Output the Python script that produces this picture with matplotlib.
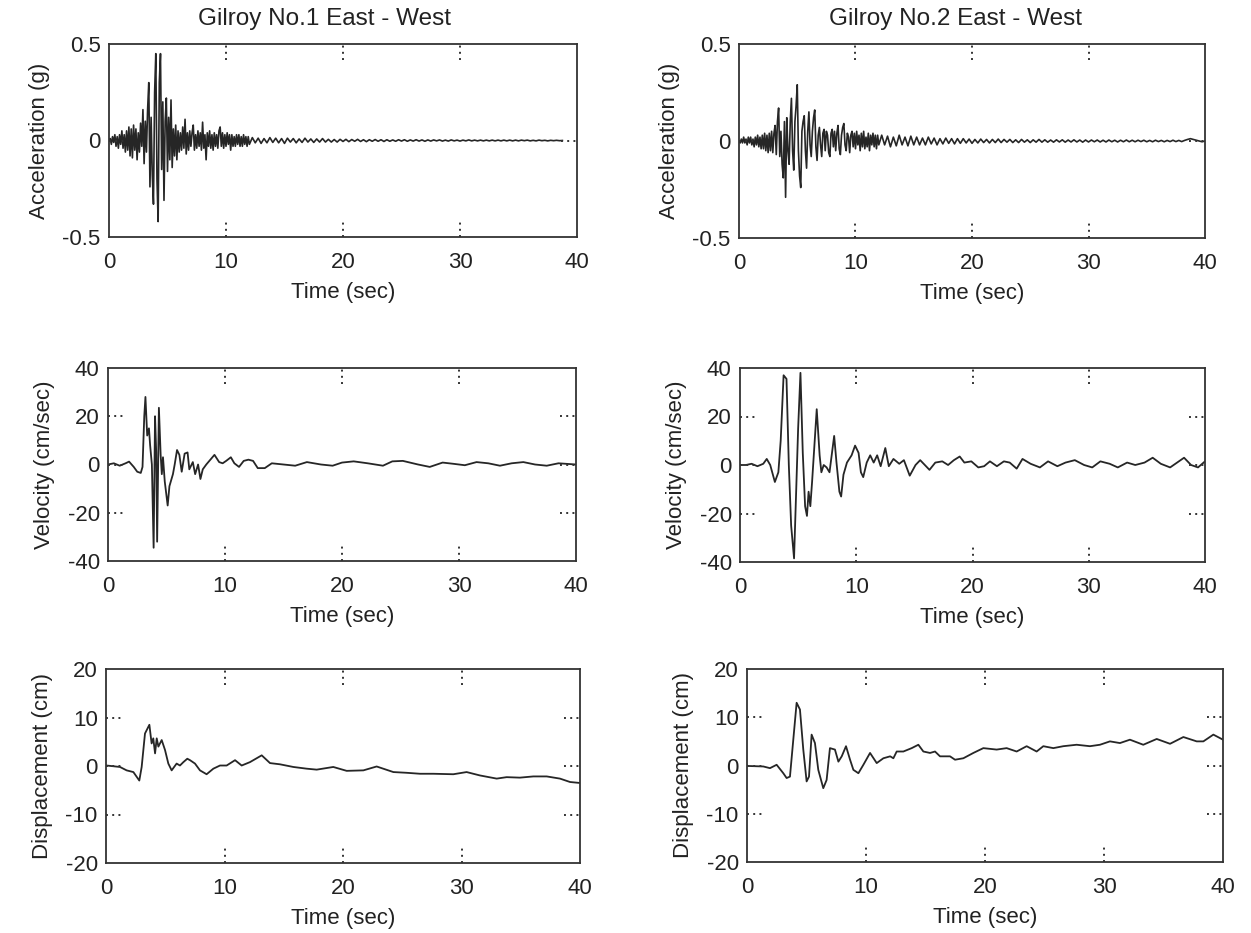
import numpy as np
import matplotlib
matplotlib.use("Agg")
import matplotlib.pyplot as plt

plt.rcParams['font.family'] = ['Liberation Sans', 'DejaVu Sans']

# ---------------- data ----------------
# Gilroy No.1 acceleration (g): 0-12 s every 0.1 s, then 12.25-38.75 s every 0.25 s
acc1_head = [0.00, 0.01, -0.02, 0.02, -0.01, 0.03, -0.03, 0.02, -0.04, 0.03,
             -0.02, 0.05, -0.04, 0.03, -0.06, 0.05, -0.05, 0.07, -0.08, 0.06,
             -0.09, 0.08, -0.05, 0.06, -0.10, 0.04, -0.06, 0.09, -0.03, 0.16,
             -0.12, 0.10, -0.06, 0.16, 0.30, -0.24, 0.12, -0.18, -0.33, 0.25,
             0.45, -0.20, -0.42, 0.30, 0.45, -0.15, 0.20, -0.31, 0.10, 0.22,
             -0.16, 0.12, -0.10, 0.21, -0.14, 0.06, -0.08, 0.08, -0.10, 0.05,
             -0.06, 0.04, -0.05, 0.07, -0.04, 0.11, -0.07, 0.04, -0.05, 0.05,
             -0.03, 0.04, 0.08, -0.05, 0.03, -0.04, 0.05, -0.03, 0.04, -0.05,
             0.095, -0.04, 0.03, -0.10, 0.04, -0.03, 0.05, -0.04, 0.03, -0.05,
             0.04, -0.03, 0.03, -0.04, 0.05, 0.07, -0.03, 0.04, -0.04, 0.03,
             -0.03, 0.04, -0.02, 0.03, -0.05, 0.03, -0.03, 0.02, -0.03, 0.03,
             -0.02, 0.03, -0.03, 0.02, -0.03, 0.03, -0.02, 0.02, -0.03, 0.02,
             -0.02]
acc1_tail = [0.015, -0.012, 0.012, -0.015, 0.01, -0.012, 0.015, -0.01, 0.012, -0.012,
             0.01, -0.015, 0.012, -0.008, 0.01, -0.012, 0.008, -0.01, 0.012, -0.008,
             0.008, -0.01, 0.008, -0.008, 0.01, -0.008, 0.006, -0.008, 0.005, -0.008,
             0.006, -0.005, 0.006, -0.006, 0.005, -0.004, 0.006, -0.005, 0.004, -0.006,
             0.004, -0.004, 0.005, -0.004, 0.004, -0.005, 0.004, -0.004, 0.003, -0.004,
             0.004, -0.003, 0.004, -0.004, 0.003, -0.003, 0.004, -0.003, 0.003, -0.004,
             0.003, -0.003, 0.003, -0.002, 0.003, -0.003, 0.002, -0.003, 0.003, -0.002,
             0.002, -0.003, 0.002, -0.002, 0.003, -0.002, 0.002, -0.002, 0.002, -0.002,
             0.002, -0.002, 0.002, -0.002, 0.002, -0.002, 0.002, -0.002, 0.002, -0.002,
             0.002, -0.002, 0.002, -0.001, 0.002, -0.002, 0.001, -0.002, 0.002, -0.001,
             0.001, -0.002, 0.001, -0.001, 0.001, -0.001, 0.0]

# Gilroy No.2 acceleration (g): 0-12 s every 0.1 s, then 12.25-40 s every 0.25 s
acc2_head = [0.00, -0.01, 0.01, -0.01, 0.02, -0.01, 0.01, -0.02, 0.02, -0.01,
             0.02, -0.02, 0.01, -0.03, 0.02, -0.02, 0.03, -0.03, 0.02, -0.04,
             0.03, -0.04, 0.04, -0.05, 0.03, -0.06, 0.04, -0.05, 0.05, -0.06,
             0.04, 0.08, -0.07, 0.10, 0.17, -0.08, 0.05, -0.12, -0.19, 0.10,
             -0.29, 0.12, -0.05, -0.12, 0.10, 0.22, -0.05, -0.15, 0.10, 0.18,
             0.29, -0.05, -0.18, -0.24, 0.05, 0.10, 0.13, -0.05, -0.14, 0.05,
             0.15, -0.02, -0.08, 0.05, 0.12, 0.16, -0.03, -0.10, 0.03, 0.07,
             -0.02, -0.08, 0.04, 0.06, -0.05, 0.05, 0.03, -0.06, -0.08, 0.04,
             0.06, -0.03, 0.05, -0.05, 0.04, 0.08, -0.04, -0.07, 0.03, 0.07,
             0.09, -0.02, -0.05, 0.04, 0.02, -0.06, 0.03, 0.05, -0.03, 0.04,
             -0.04, 0.05, -0.02, 0.03, -0.05, 0.04, -0.03, 0.05, -0.04, 0.02,
             -0.03, 0.04, -0.05, 0.03, -0.02, 0.04, -0.03, 0.03, -0.04, 0.03,
             -0.02]
acc2_tail = [0.03, -0.02, 0.025, -0.03, 0.02, -0.025, 0.03, -0.02, 0.02, -0.025,
             0.025, -0.02, 0.02, -0.02, 0.015, -0.02, 0.02, -0.015, 0.015, -0.02,
             0.012, -0.015, 0.015, -0.012, 0.012, -0.015, 0.012, -0.012, 0.012, -0.01,
             0.01, -0.012, 0.008, -0.01, 0.01, -0.008, 0.008, -0.01, 0.008, -0.008,
             0.01, -0.008, 0.008, -0.006, 0.008, -0.008, 0.006, -0.008, 0.008, -0.006,
             0.006, -0.008, 0.006, -0.006, 0.008, -0.006, 0.006, -0.006, 0.005, -0.006,
             0.006, -0.005, 0.006, -0.006, 0.005, -0.005, 0.006, -0.005, 0.005, -0.006,
             0.005, -0.005, 0.005, -0.004, 0.005, -0.005, 0.004, -0.005, 0.005, -0.004,
             0.004, -0.005, 0.004, -0.004, 0.005, -0.004, 0.004, -0.004, 0.004, -0.003,
             0.004, -0.004, 0.003, -0.004, 0.004, -0.003, 0.003, -0.004, 0.003, -0.003,
             0.004, -0.003, 0.003, -0.003, 0.003, 0.008, 0.012, 0.008, 0.004, 0.0,
             -0.004, 0.0]

# Gilroy No.1 velocity (cm/sec)
vel1_t = [0.0, 0.5, 1.0, 1.5, 1.8, 2.2, 2.5, 2.8, 2.95, 3.1, 3.2, 3.35, 3.5, 3.6,
          3.75, 3.9, 4.02, 4.12, 4.2, 4.35, 4.5, 4.6, 4.7, 4.85, 5.1, 5.25, 5.55,
          5.7, 5.9, 6.1, 6.3, 6.55, 6.8, 6.95, 7.25, 7.45, 7.7, 7.9, 8.1, 8.4, 9.1,
          9.5, 9.8, 10.1, 10.5, 10.8, 11.2, 11.6, 12.0, 12.4, 12.8, 13.4, 14.0, 15.0,
          16.0, 17.0, 18.2, 19.2, 20.0, 21.0, 22.2, 23.5, 24.3, 25.2, 26.5, 27.5,
          28.6, 29.5, 30.5, 31.5, 32.5, 33.5, 34.5, 35.5, 36.5, 37.5, 38.5, 40.0]
vel1_v = [0, 0.5, -0.5, 0.5, 1.2, -1, -3, -3.5, -1, 20, 28, 12, 15, 8,
          0, -34.5, 20, 5, -32, 23.5, 4, -4, 3, -7, -17, -9, -4,
          0, 6, 4, -3, 4.5, 5, -2, 1, -4, 0, -6, -2, 0, 4,
          1, 0.5, 1.5, 3, 0.5, -1, 1.5, 2, 1.5, -1.5, -1.5, 0.5, 0,
          -0.5, 1, 0, -0.5, 0.8, 1.3, 0.5, -0.5, 1.3, 1.5, 0, -1,
          0.8, 0.3, -0.3, 1, 0.5, -0.5, 0.5, 1, 0, -0.5, 0.5, 0]

# Gilroy No.2 velocity (cm/sec)
vel2_t = [0, 0.5, 1.0, 1.5, 2.0, 2.3, 2.6, 3.0, 3.3, 3.5, 3.75, 4.0, 4.2, 4.4,
          4.65, 4.85, 5.0, 5.2, 5.4, 5.6, 5.76, 5.9, 6.05, 6.2, 6.6, 6.85, 7.0,
          7.2, 7.45, 7.7, 8.1, 8.3, 8.55, 8.7, 8.9, 9.2, 9.6, 9.9, 10.2, 10.4,
          10.6, 10.9, 11.2, 11.5, 11.8, 12.1, 12.5, 12.8, 13.2, 13.7, 14.1, 14.6,
          15.1, 15.5, 16.0, 16.3, 16.8, 17.4, 17.9, 18.4, 18.9, 19.3, 19.9, 20.5,
          21.0, 21.5, 22.1, 22.7, 23.2, 23.8, 24.3, 25.0, 25.8, 26.5, 27.3, 28.0,
          28.8, 29.6, 30.3, 31.0, 31.8, 32.5, 33.3, 34.0, 34.8, 35.5, 36.2, 37.0,
          37.6, 38.2, 38.8, 39.4, 40.0]
vel2_v = [0, 0, 0.5, -0.5, 0.5, 2.5, 0, -7, -3, 10, 37, 35.5, 0, -25,
          -38.5, -8, 15, 38, 5, -17, -21, -11, -17, -7, 23, 4, -3,
          0, -1, -3, 12, 1, -11, -13, -4, 1, 4, 8, 5, -3,
          -5, 1, 4, 1, 4, -0.5, 7, -0.5, 2.5, 0.5, 2, -4.4,
          0, 2, -0.5, -2, 1, 1.5, 0, 2, 3.5, 1, 1.5, -1,
          -0.5, 1.5, -0.5, 1.5, 1, -1.5, 2.5, 0.5, -1, 1.5, -0.5, 1,
          2, 0, -1, 1.5, 0.5, -1, 1, 0, 1, 3, 0.5, -1,
          1, 3, 0, -1, 1.5]

# Gilroy No.1 displacement (cm)
dis1_t = [0.0, 0.05, 1.18, 1.74, 2.31, 2.81, 3.01, 3.29, 3.66, 3.85, 3.99, 4.14,
          4.28, 4.42, 4.70, 4.98, 5.26, 5.54, 5.96, 6.24, 6.53, 6.86, 7.09, 7.51,
          7.93, 8.49, 9.06, 9.62, 10.18, 10.89, 11.45, 12.15, 13.14, 13.84, 14.68,
          15.81, 16.93, 17.78, 19.18, 20.31, 21.72, 22.84, 24.25, 25.37, 26.5,
          27.62, 29.31, 30.43, 31.56, 32.97, 33.81, 34.93, 36.06, 37.19, 38.31,
          39.16, 40.0]
dis1_v = [0.0, 0.1, -0.2, -0.9, -1.25, -3.0, -0.2, 6.7, 8.5, 4.65, 5.7, 2.6,
          5.7, 4.0, 5.35, 3.3, 0.5, -0.9, 0.5, 0.1, 0.8, 1.5, 1.2, 0.5,
          -0.9, -1.7, -0.55, 0.1, 0.1, 1.2, 0.1, 0.8, 2.2, 0.6, 0.35,
          -0.2, -0.55, -0.75, -0.2, -1.0, -0.9, -0.1, -1.25, -1.4, -1.6,
          -1.6, -1.7, -1.25, -1.95, -2.6, -2.3, -2.4, -2.15, -2.15, -2.6,
          -3.3, -3.5]

# Gilroy No.2 displacement (cm)
dis2_t = [0.0, 0.11, 1.37, 1.93, 2.49, 3.05, 3.33, 3.61, 3.89, 4.17, 4.45, 4.73,
          5.01, 5.21, 5.43, 5.71, 5.99, 6.41, 6.69, 6.97, 7.39, 7.68, 7.96, 8.32,
          8.66, 8.94, 9.36, 9.78, 10.34, 10.9, 11.46, 12.03, 12.3, 12.58, 13.14,
          13.84, 14.4, 14.82, 15.38, 15.8, 16.22, 17.06, 17.48, 18.18, 19.02,
          19.86, 20.98, 21.82, 22.66, 23.5, 24.34, 24.9, 25.74, 26.58, 27.7,
          28.82, 29.66, 30.5, 31.34, 32.18, 33.3, 34.43, 35.55, 36.67, 37.79,
          38.35, 39.19, 40.0]
dis2_v = [0.0, -0.1, -0.2, -0.55, 0.15, -1.6, -2.6, -2.3, 5.35, 13.0, 11.6, 3.3,
          -3.3, -2.3, 6.4, 4.65, -0.9, -4.7, -3.0, 3.6, 3.3, 0.8, 1.9, 4.0,
          1.2, -0.9, -1.6, 0.15, 2.6, 0.5, 1.5, 1.9, 1.5, 2.9, 2.9,
          3.6, 4.3, 2.9, 2.6, 2.9, 1.9, 1.9, 1.2, 1.5, 2.6,
          3.6, 3.3, 3.6, 2.9, 4.0, 2.9, 4.0, 3.6, 4.0, 4.3,
          4.0, 4.3, 5.0, 4.65, 5.35, 4.3, 5.5, 4.5, 5.9, 5.0,
          5.0, 6.4, 5.35]

titles = ["Gilroy No.1 East - West", "Gilroy No.2 East - West"]
ylabels = ["Acceleration (g)", "Velocity (cm/sec)", "Displacement (cm)"]
xlabel = "Time (sec)"
xticks = [0, 10, 20, 30, 40]
yticks = [[-0.5, 0, 0.5], [-40, -20, 0, 20, 40], [-20, -10, 0, 10, 20]]
yticklabels = [["-0.5", "0", "0.5"], ["-40", "-20", "0", "20", "40"],
               ["-20", "-10", "0", "10", "20"]]

# ---------------- build time grids ----------------
acc1_t = np.concatenate([np.arange(len(acc1_head)) * 0.1,
                         12.0 + 0.25 * np.arange(1, len(acc1_tail) + 1)])
acc1_v = np.array(acc1_head + acc1_tail)
acc2_t = np.concatenate([np.arange(len(acc2_head)) * 0.1,
                         12.0 + 0.25 * np.arange(1, len(acc2_tail) + 1)])
acc2_v = np.array(acc2_head + acc2_tail)

series = [[(acc1_t, acc1_v), (acc2_t, acc2_v)],
          [(vel1_t, vel1_v), (vel2_t, vel2_v)],
          [(dis1_t, dis1_v), (dis2_t, dis2_v)]]

# ---------------- figure ----------------
W, H = 1251, 933
fig = plt.figure(figsize=(W / 100, H / 100), dpi=100)

# pixel rectangles (x0, x1, y0, y1) for each panel
rects = [[(109, 577, 44, 237), (739, 1205, 44, 238)],
         [(108, 576, 368, 561), (740, 1205, 368, 562)],
         [(106, 580, 669, 863), (747, 1223, 669, 862)]]

ink = "#262626"
FS = 16

for r in range(3):
    for c in range(2):
        x0, x1, y0, y1 = rects[r][c]
        ax = fig.add_axes([x0 / W, 1 - y1 / H, (x1 - x0) / W, (y1 - y0) / H])
        t, v = series[r][c]
        ax.plot(t, v, color=ink, lw=1.2 if r == 0 else 1.3)
        ax.set_xlim(0, 40)
        lo, hi = yticks[r][0], yticks[r][-1]
        ax.set_ylim(lo, hi)
        ax.set_xticks(xticks)
        ax.set_xticklabels([str(x) for x in xticks])
        ax.set_yticks(yticks[r])
        ax.set_yticklabels(yticklabels[r])
        ax.tick_params(length=0, labelsize=FS, colors="#222222")
        ax.tick_params(axis="x", pad=11)
        ax.tick_params(axis="y", pad=6)
        for s in ax.spines.values():
            s.set_color("#333333")
            s.set_linewidth(1.3)
        ax.set_xlabel(xlabel, fontsize=FS, color="#222222", labelpad=6)
        ax.set_ylabel(ylabels[r], fontsize=FS, color="#222222", labelpad=9)
        # dotted grid stubs at interior ticks
        stub_y = 0.085
        stub_x = 16.0 / (x1 - x0)
        for xt in xticks[1:-1]:
            for a, b in [(0, stub_y), (1 - stub_y, 1)]:
                ax.plot([xt, xt], [a, b], transform=ax.get_xaxis_transform(),
                        color="#333333", lw=1.4, ls=(0, (1, 2.2)), clip_on=False)
        for yt in yticks[r][1:-1]:
            for a, b in [(0, stub_x), (1 - stub_x, 1)]:
                ax.plot([a, b], [yt, yt], transform=ax.get_yaxis_transform(),
                        color="#333333", lw=1.4, ls=(0, (1, 2.2)), clip_on=False)

fig.text(325 / W, 1 - 19 / H, titles[0], ha="center", va="center",
         fontsize=17.5, color="#222222")
fig.text(956 / W, 1 - 19 / H, titles[1], ha="center", va="center",
         fontsize=17.5, color="#222222")

fig.savefig("out.png", dpi=100)
